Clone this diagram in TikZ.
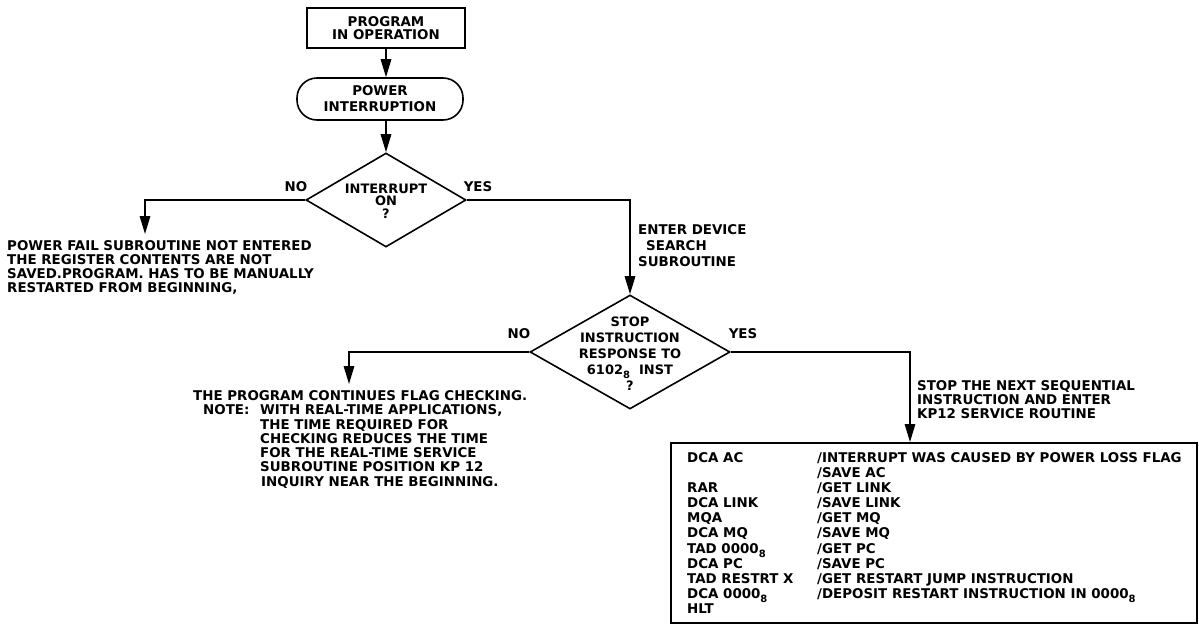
\documentclass[tikz,border=0pt]{standalone}
\usepackage{fontspec}
\setmainfont{DejaVu Sans}
\usetikzlibrary{arrows.meta,shapes.geometric}
\newcommand\octsub[1]{\raisebox{-0.55ex}{\fontsize{10}{10}\selectfont #1}}
\begin{document}
\begin{tikzpicture}[x=1pt,y=-1pt,
  txt/.style={font=\fontsize{13.4}{14}\selectfont\bfseries, inner sep=0pt, align=left, anchor=north west},
  ctxt/.style={font=\fontsize{13.4}{13.5}\selectfont\bfseries, inner sep=0pt, align=center},
  shapeline/.style={draw, line width=1.6pt},
  conn/.style={line width=1.5pt, -{Triangle[length=18pt,width=10.5pt]}},
]
\fill[white] (0,0) rectangle (1199,624);
\useasboundingbox (0,0) rectangle (1199,624);

% start box
\node[shapeline, ctxt, minimum width=158pt, minimum height=40pt] (prog) at (386,28) {PROGRAM\\IN OPERATION};
% terminator
\node[shapeline, ctxt, rounded corners=20pt, minimum width=166pt, minimum height=42pt,
      font=\fontsize{13.4}{16}\selectfont\bfseries] (pow) at (380,99) {POWER\\INTERRUPTION};
% decision 1
\node[shapeline, diamond, minimum width=160pt, minimum height=94pt, inner sep=0pt] (d1) at (386,200) {};
\node[ctxt, font=\fontsize{13}{12.5}\selectfont\bfseries] (d1t) at (386,201) {INTERRUPT\\ON\\?};
% decision 2
\node[shapeline, diamond, minimum width=200pt, minimum height=114pt, inner sep=0pt] (d2) at (630,352) {};
\node[ctxt, font=\fontsize{13}{16}\selectfont\bfseries] (d2t) at (630,354) {STOP\\INSTRUCTION\\RESPONSE TO\\6102\octsub{8}\ \ INST\\?};
% routine box
\node[shapeline, anchor=north west, minimum width=526pt, minimum height=180pt, inner sep=0pt] (box) at (670,442) {};

% free ends
\coordinate (nofail) at (145,234);
\coordinate (nocont) at (349,384);
\coordinate (boxin) at (910,442);

% connectors
\draw[conn] (prog.south) -- (prog.south |- pow.north);
\draw[conn] (prog.south |- pow.south) -- (d1.north);
\draw[conn] (d1.west) -| (nofail);
\draw[conn] (d1.east) -| (d2.north);
\draw[conn] (d2.west) -| (nocont);
\draw[conn] (d2.east) -| (boxin);

% branch labels
\node[ctxt] (no1) at (296,187) {NO};
\node[ctxt] (yes1) at (478,187) {YES};
\node[ctxt] (no2) at (519,334) {NO};
\node[ctxt] (yes2) at (743,334) {YES};

% texts
\node[txt] (failt) at (7,240.3) {POWER FAIL SUBROUTINE NOT ENTERED\\THE REGISTER CONTENTS ARE NOT\\SAVED.PROGRAM. HAS TO BE MANUALLY\\RESTARTED FROM BEGINNING,};
\node[txt, font=\fontsize{13.4}{16}\selectfont\bfseries] (entert) at (638,224.3) {ENTER DEVICE\\\hspace*{8pt}SEARCH\\SUBROUTINE};
\node[txt, font=\fontsize{13.4}{14.3}\selectfont\bfseries] (contt) at (193,390.3) {THE PROGRAM CONTINUES FLAG CHECKING.\\
\hspace*{10pt}\makebox[57pt][l]{NOTE:}WITH REAL-TIME APPLICATIONS,\\
\hspace*{67pt}THE TIME REQUIRED FOR\\
\hspace*{67pt}CHECKING REDUCES THE TIME\\
\hspace*{67pt}FOR THE REAL-TIME SERVICE\\
\hspace*{67pt}SUBROUTINE POSITION KP 12\\
\hspace*{68pt}INQUIRY NEAR THE BEGINNING.};
\node[txt] (stopt) at (917,380.3) {STOP THE NEXT SEQUENTIAL\\INSTRUCTION AND ENTER\\KP12 SERVICE ROUTINE};
\node[txt, font=\fontsize{13.4}{15.1}\selectfont\bfseries] (boxt) at (687,452.3) {%
\makebox[130pt][l]{DCA AC}/INTERRUPT WAS CAUSED BY POWER LOSS FLAG\\
\makebox[130pt][l]{}/SAVE AC\\
\makebox[130pt][l]{RAR}/GET LINK\\
\makebox[130pt][l]{DCA LINK}/SAVE LINK\\
\makebox[130pt][l]{MQA}/GET MQ\\
\makebox[130pt][l]{DCA MQ}/SAVE MQ\\
\makebox[130pt][l]{TAD 0000\octsub{8}}/GET PC\\
\makebox[130pt][l]{DCA PC}/SAVE PC\\
\makebox[130pt][l]{TAD RESTRT X}/GET RESTART JUMP INSTRUCTION\\
\makebox[130pt][l]{DCA 0000\octsub{8}}/DEPOSIT RESTART INSTRUCTION IN 0000\octsub{8}\\
\makebox[130pt][l]{HLT}};
\end{tikzpicture}
\end{document}
